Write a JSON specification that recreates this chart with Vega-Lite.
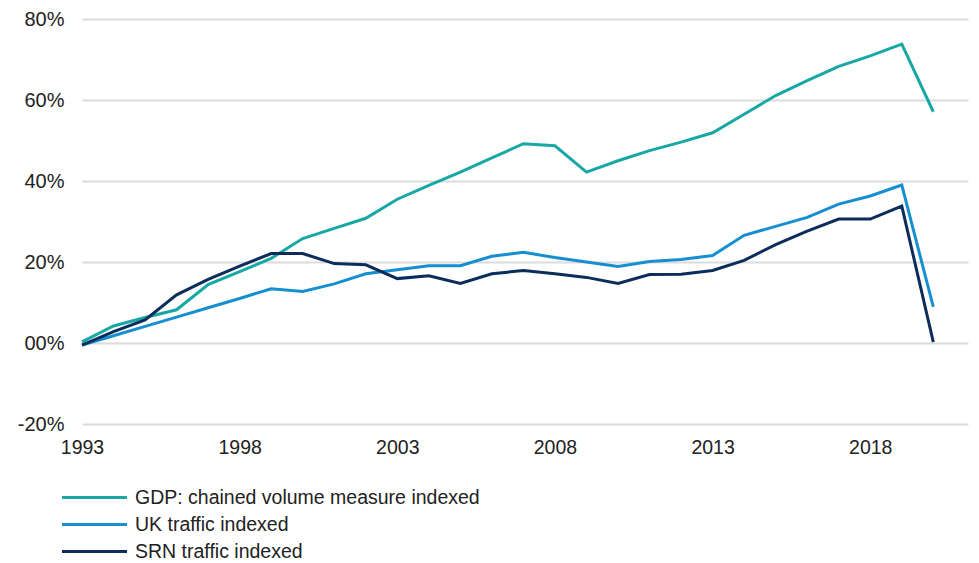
{
  "$schema": "https://vega.github.io/schema/vega-lite/v6.json",
  "width": 886,
  "height": 405,
  "autosize": "none",
  "padding": {"left": 82, "top": 19, "right": 11, "bottom": 139},
  "background": "white",
  "config": {"view": {"stroke": null}, "font": "Liberation Sans"},
  "datasets": {
    "rows": [
      {"year": 1993, "series": "GDP: chained volume measure indexed", "value": 0.3},
      {"year": 1994, "series": "GDP: chained volume measure indexed", "value": 4.2},
      {"year": 1995, "series": "GDP: chained volume measure indexed", "value": 6.3},
      {"year": 1996, "series": "GDP: chained volume measure indexed", "value": 8.2},
      {"year": 1997, "series": "GDP: chained volume measure indexed", "value": 14.4},
      {"year": 1998, "series": "GDP: chained volume measure indexed", "value": 17.6},
      {"year": 1999, "series": "GDP: chained volume measure indexed", "value": 20.9},
      {"year": 2000, "series": "GDP: chained volume measure indexed", "value": 25.8},
      {"year": 2001, "series": "GDP: chained volume measure indexed", "value": 28.3},
      {"year": 2002, "series": "GDP: chained volume measure indexed", "value": 30.8},
      {"year": 2003, "series": "GDP: chained volume measure indexed", "value": 35.5},
      {"year": 2004, "series": "GDP: chained volume measure indexed", "value": 38.9},
      {"year": 2005, "series": "GDP: chained volume measure indexed", "value": 42.2},
      {"year": 2006, "series": "GDP: chained volume measure indexed", "value": 45.7},
      {"year": 2007, "series": "GDP: chained volume measure indexed", "value": 49.2},
      {"year": 2008, "series": "GDP: chained volume measure indexed", "value": 48.7},
      {"year": 2009, "series": "GDP: chained volume measure indexed", "value": 42.2},
      {"year": 2010, "series": "GDP: chained volume measure indexed", "value": 45.0},
      {"year": 2011, "series": "GDP: chained volume measure indexed", "value": 47.5},
      {"year": 2012, "series": "GDP: chained volume measure indexed", "value": 49.6},
      {"year": 2013, "series": "GDP: chained volume measure indexed", "value": 51.9},
      {"year": 2014, "series": "GDP: chained volume measure indexed", "value": 56.5},
      {"year": 2015, "series": "GDP: chained volume measure indexed", "value": 61.1},
      {"year": 2016, "series": "GDP: chained volume measure indexed", "value": 64.8},
      {"year": 2017, "series": "GDP: chained volume measure indexed", "value": 68.3},
      {"year": 2018, "series": "GDP: chained volume measure indexed", "value": 70.9},
      {"year": 2019, "series": "GDP: chained volume measure indexed", "value": 73.8},
      {"year": 2020, "series": "GDP: chained volume measure indexed", "value": 57.1},
      {"year": 1993, "series": "UK traffic indexed", "value": -0.5},
      {"year": 1994, "series": "UK traffic indexed", "value": 1.8},
      {"year": 1995, "series": "UK traffic indexed", "value": 4.1},
      {"year": 1996, "series": "UK traffic indexed", "value": 6.4},
      {"year": 1997, "series": "UK traffic indexed", "value": 8.7},
      {"year": 1998, "series": "UK traffic indexed", "value": 11.0},
      {"year": 1999, "series": "UK traffic indexed", "value": 13.4},
      {"year": 2000, "series": "UK traffic indexed", "value": 12.7},
      {"year": 2001, "series": "UK traffic indexed", "value": 14.6},
      {"year": 2002, "series": "UK traffic indexed", "value": 17.1},
      {"year": 2003, "series": "UK traffic indexed", "value": 18.1},
      {"year": 2004, "series": "UK traffic indexed", "value": 19.1},
      {"year": 2005, "series": "UK traffic indexed", "value": 19.1},
      {"year": 2006, "series": "UK traffic indexed", "value": 21.4},
      {"year": 2007, "series": "UK traffic indexed", "value": 22.4},
      {"year": 2008, "series": "UK traffic indexed", "value": 21.1},
      {"year": 2009, "series": "UK traffic indexed", "value": 20.0},
      {"year": 2010, "series": "UK traffic indexed", "value": 18.9},
      {"year": 2011, "series": "UK traffic indexed", "value": 20.1},
      {"year": 2012, "series": "UK traffic indexed", "value": 20.6},
      {"year": 2013, "series": "UK traffic indexed", "value": 21.6},
      {"year": 2014, "series": "UK traffic indexed", "value": 26.6},
      {"year": 2015, "series": "UK traffic indexed", "value": 28.8},
      {"year": 2016, "series": "UK traffic indexed", "value": 31.0},
      {"year": 2017, "series": "UK traffic indexed", "value": 34.3},
      {"year": 2018, "series": "UK traffic indexed", "value": 36.3},
      {"year": 2019, "series": "UK traffic indexed", "value": 39.0},
      {"year": 2020, "series": "UK traffic indexed", "value": 8.9},
      {"year": 1993, "series": "SRN traffic indexed", "value": -0.5},
      {"year": 1994, "series": "SRN traffic indexed", "value": 2.8},
      {"year": 1995, "series": "SRN traffic indexed", "value": 5.7},
      {"year": 1996, "series": "SRN traffic indexed", "value": 11.9},
      {"year": 1997, "series": "SRN traffic indexed", "value": 15.7},
      {"year": 1998, "series": "SRN traffic indexed", "value": 19.0},
      {"year": 1999, "series": "SRN traffic indexed", "value": 22.1},
      {"year": 2000, "series": "SRN traffic indexed", "value": 22.1},
      {"year": 2001, "series": "SRN traffic indexed", "value": 19.6},
      {"year": 2002, "series": "SRN traffic indexed", "value": 19.3},
      {"year": 2003, "series": "SRN traffic indexed", "value": 15.9},
      {"year": 2004, "series": "SRN traffic indexed", "value": 16.6},
      {"year": 2005, "series": "SRN traffic indexed", "value": 14.7},
      {"year": 2006, "series": "SRN traffic indexed", "value": 17.1},
      {"year": 2007, "series": "SRN traffic indexed", "value": 17.9},
      {"year": 2008, "series": "SRN traffic indexed", "value": 17.1},
      {"year": 2009, "series": "SRN traffic indexed", "value": 16.2},
      {"year": 2010, "series": "SRN traffic indexed", "value": 14.7},
      {"year": 2011, "series": "SRN traffic indexed", "value": 16.9},
      {"year": 2012, "series": "SRN traffic indexed", "value": 17.0},
      {"year": 2013, "series": "SRN traffic indexed", "value": 17.9},
      {"year": 2014, "series": "SRN traffic indexed", "value": 20.4},
      {"year": 2015, "series": "SRN traffic indexed", "value": 24.3},
      {"year": 2016, "series": "SRN traffic indexed", "value": 27.6},
      {"year": 2017, "series": "SRN traffic indexed", "value": 30.6},
      {"year": 2018, "series": "SRN traffic indexed", "value": 30.6},
      {"year": 2019, "series": "SRN traffic indexed", "value": 33.8},
      {"year": 2020, "series": "SRN traffic indexed", "value": 0.2}
    ]
  },
  "data": {"name": "rows"},
  "mark": {"type": "line", "strokeWidth": 3, "strokeJoin": "miter"},
  "encoding": {
    "x": {
      "field": "year",
      "type": "quantitative",
      "scale": {"domain": [1993, 2021.1], "nice": false, "zero": false},
      "axis": {
        "title": null,
        "values": [1993, 1998, 2003, 2008, 2013, 2018],
        "format": "d",
        "grid": false,
        "domain": false,
        "ticks": false,
        "labelFontSize": 19.5,
        "labelColor": "#222222",
        "labelPadding": 14,
        "labelFlush": false
      }
    },
    "y": {
      "field": "value",
      "type": "quantitative",
      "scale": {"domain": [-20, 80], "nice": false},
      "axis": {
        "title": null,
        "values": [-20, 0, 20, 40, 60, 80],
        "labelExpr": "datum.value == 0 ? '00%' : datum.value + '%'",
        "grid": true,
        "gridColor": "#dcdcdc",
        "gridWidth": 2,
        "domain": false,
        "ticks": false,
        "labelFontSize": 20,
        "labelColor": "#222222",
        "labelPadding": 18
      }
    },
    "color": {
      "field": "series",
      "type": "nominal",
      "sort": ["GDP: chained volume measure indexed", "UK traffic indexed", "SRN traffic indexed"],
      "scale": {
        "domain": ["GDP: chained volume measure indexed", "UK traffic indexed", "SRN traffic indexed"],
        "range": ["#17a8a6", "#168fd1", "#0c2d5c"]
      },
      "legend": {
        "title": null,
        "orient": "none",
        "legendX": 0,
        "legendY": 466,
        "symbolType": "M-3,0H3",
        "symbolSize": 469,
        "symbolStrokeWidth": 3,
        "labelFontSize": 19.5,
        "labelColor": "#222222",
        "labelOffset": 28,
        "rowPadding": 5,
        "labelLimit": 600
      }
    }
  }
}
